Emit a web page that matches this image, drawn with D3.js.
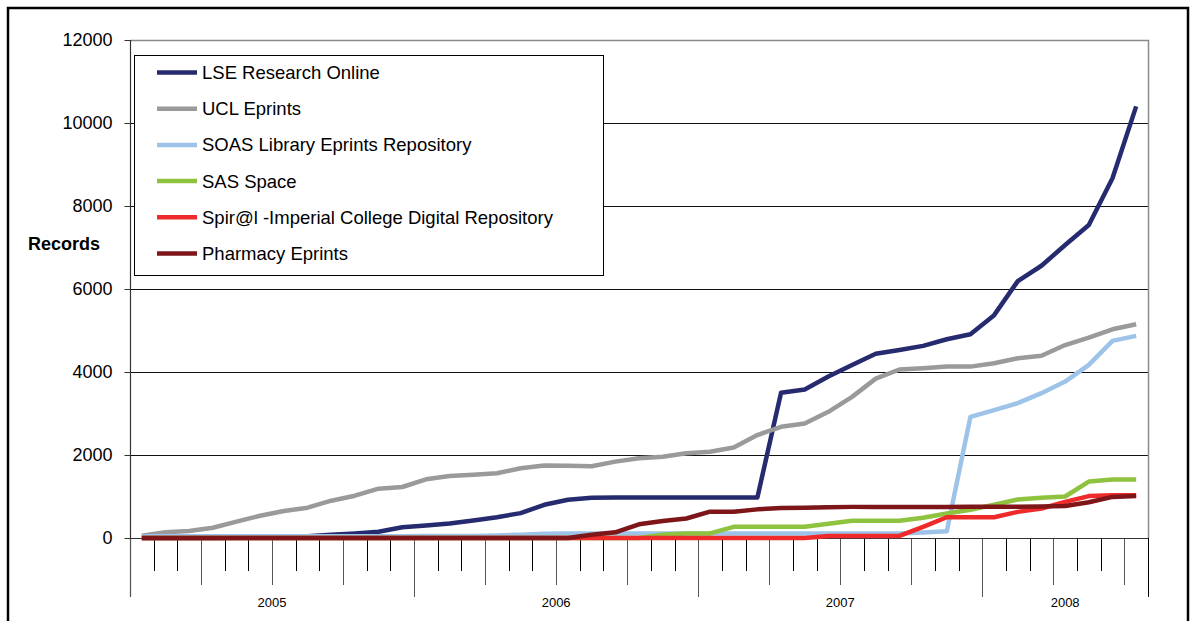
<!DOCTYPE html>
<html>
<head>
<meta charset="utf-8">
<script src="https://cdn.jsdelivr.net/npm/d3@7/dist/d3.min.js"></script>
<style>
	body { margin: 0; background: #fff; }
	svg { font-family: "Liberation Sans", Arial, sans-serif; }
</style>
</head>
<body>
<svg id="chart" width="1196" height="621"></svg>
<script>
// years on the outer axis level and how many months each one has
var years = ['2005', '2006', '2007', '2008'];
var monthsInYear = [12, 12, 12, 7];

// monthly record counts, Jan 2005 .. Jul 2008
var lse = [0, 0, 0, 0, 5, 10, 20, 40, 80, 110, 150, 260, 300, 350, 420, 500, 600, 800, 920, 970,
	975, 975, 975, 975, 975, 975, 975, 3500, 3580, 3890, 4170, 4440, 4530, 4630, 4790, 4910, 5370,
	6190, 6560, 7060, 7540, 8670, 10400];
var ucl = [55, 137, 169, 248, 393, 537, 651, 730, 899, 1019, 1188, 1229, 1414, 1494, 1525, 1559,
	1680, 1745, 1740, 1730, 1840, 1920, 1960, 2040, 2080, 2180, 2480, 2680, 2760, 3040, 3400, 3840,
	4060, 4090, 4130, 4130, 4210, 4330, 4390, 4650, 4830, 5030, 5150];
var soas = [40, 40, 40, 40, 40, 40, 40, 40, 40, 40, 40, 40, 50, 50, 50, 60, 80, 100, 110, 110,
	110, 110, 110, 110, 110, 110, 110, 110, 110, 110, 110, 110, 110, 130, 160, 2920, 3080, 3250,
	3490, 3770, 4170, 4750, 4870];
var sas = [0, 0, 0, 0, 0, 0, 0, 0, 0, 0, 0, 0, 0, 0, 0, 0, 0, 0, 0, 0, 0, 0, 80, 110, 110, 270,
	270, 270, 270, 345, 417, 417, 417, 490, 590, 680, 800, 930, 970, 1000, 1360, 1410, 1410];
var spiral = [0, 0, 0, 0, 0, 0, 0, 0, 0, 0, 0, 0, 0, 0, 0, 0, 0, 0, 0, 0, 0, 0, 0, 0, 0, 0, 0, 0,
	0, 50, 50, 50, 50, 270, 500, 500, 500, 630, 710, 870, 1010, 1030, 1030];
var pharmacy = [0, 0, 0, 0, 0, 0, 0, 0, 0, 0, 0, 0, 0, 0, 0, 0, 0, 0, 0, 80, 137, 330, 410, 470,
	634, 634, 690, 720, 730, 740, 750, 750, 750, 750, 750, 755, 755, 755, 760, 770, 860, 990, 1010];

var seriesNames = ['LSE Research Online', 'UCL Eprints', 'SOAS Library Eprints Repository',
	'SAS Space', 'Spir@l -Imperial College Digital Repository', 'Pharmacy Eprints'];
var seriesColors = ['#262a6f', '#9a9a9a', '#9dc3e8', '#8fc23e', '#ee2a2b', '#7e1518'];
var seriesValues = [lse, ucl, soas, sas, spiral, pharmacy];
var yTicks = [0, 2000, 4000, 6000, 8000, 10000, 12000];

// build month categories
var months = [];
years.forEach(function(y, yi) {
	for (var m = 0; m < monthsInYear[yi]; m++) months.push(y + '-' + (m + 1));
});

var svg = d3.select('#chart');
var plotLeft = 130, plotRight = 1148, plotTop = 40, plotZero = 538, axisBottom = 597;

var x = d3.scaleBand().domain(months).range([plotLeft, plotRight]).padding(0);
var y = d3.scaleLinear().domain([0, 12000]).range([plotZero, plotTop]);
var bw = x.bandwidth();

// half pixel so 1px rules land on whole pixels
function crisp(v) { return Math.round(v) + 0.5; }

// chart frame
svg.append('rect')
	.attr('x', 8).attr('y', 8).attr('width', 1180).attr('height', 640)
	.attr('fill', 'none').attr('stroke', '#000').attr('stroke-width', 2.5);

// gridlines
svg.append('g').selectAll('line')
	.data(yTicks.filter(function(t) { return t > 0 && t < 12000; }))
	.enter().append('line')
	.attr('x1', plotLeft).attr('x2', plotRight)
	.attr('y1', function(d) { return crisp(y(d)); }).attr('y2', function(d) { return crisp(y(d)); })
	.attr('stroke', '#111').attr('stroke-width', 1);

// plot area border (top, right)
svg.append('path')
	.attr('d', 'M' + plotLeft + ',' + crisp(y(12000)) + 'H' + crisp(plotRight) + 'V' + plotZero)
	.attr('fill', 'none').attr('stroke', '#8a8a8a').attr('stroke-width', 1.5);

// y axis
var yAxis = d3.axisLeft(y).tickValues(yTicks).tickSize(6).tickPadding(12)
	.tickFormat(d3.format('d'));
var gy = svg.append('g').attr('transform', 'translate(' + crisp(plotLeft) + ',0)').call(yAxis);
gy.select('.domain').remove();
gy.selectAll('.tick').attr('transform', function(d) { return 'translate(0,' + crisp(y(d)) + ')'; });
gy.selectAll('.tick line').attr('stroke', '#333');
gy.selectAll('.tick text').attr('font-size', '18px').attr('fill', '#000')
	.attr('font-family', '"Liberation Sans", Arial, sans-serif');

svg.append('line')
	.attr('x1', crisp(plotLeft)).attr('x2', crisp(plotLeft)).attr('y1', plotTop).attr('y2', axisBottom)
	.attr('stroke', '#333').attr('stroke-width', 1.2);

svg.append('text')
	.attr('x', 64).attr('y', 244).attr('dy', '0.35em')
	.attr('text-anchor', 'middle').attr('font-size', '18px').attr('font-weight', 'bold')
	.text('Records');

// x axis with month / quarter / year separators
var boundaries = d3.range(months.length + 1);
var yearStarts = [0];
monthsInYear.forEach(function(n, i) { yearStarts.push(yearStarts[i] + n); });

function bx(k) { return k < months.length ? x(months[k]) : plotRight; }

svg.append('g').selectAll('line')
	.data(boundaries)
	.enter().append('line')
	.attr('x1', function(k) { return crisp(bx(k)); })
	.attr('x2', function(k) { return crisp(bx(k)); })
	.attr('y1', plotZero)
	.attr('y2', function(k) {
		if (yearStarts.indexOf(k) >= 0) return axisBottom;
		if (k % 3 === 0) return 585;
		return 571;
	})
	.attr('stroke', function(k) { return (k % 3 === 0) ? '#555' : '#000'; })
	.attr('stroke-width', 1);

svg.append('line')
	.attr('x1', plotLeft).attr('x2', plotRight).attr('y1', crisp(plotZero)).attr('y2', crisp(plotZero))
	.attr('stroke', '#333').attr('stroke-width', 1.2);

svg.append('g').selectAll('text')
	.data(years)
	.enter().append('text')
	.attr('x', function(d, i) { return (bx(yearStarts[i]) + bx(yearStarts[i + 1])) / 2; })
	.attr('y', 602).attr('dy', '0.35em')
	.attr('text-anchor', 'middle').attr('font-size', '13px')
	.text(function(d) { return d; });

// series lines
var line = d3.line()
	.x(function(d, i) { return x(months[i]) + bw / 2; })
	.y(function(d) { return y(d); });

svg.append('g').selectAll('path')
	.data(seriesValues)
	.enter().append('path')
	.attr('d', line)
	.attr('fill', 'none')
	.attr('stroke', function(d, i) { return seriesColors[i]; })
	.attr('stroke-width', 4.5)
	.attr('stroke-linejoin', 'round');

// legend
var legend = svg.append('g');
legend.append('rect')
	.attr('x', 134.5).attr('y', 55.5).attr('width', 469).attr('height', 220)
	.attr('fill', '#fff').attr('stroke', '#000').attr('stroke-width', 1);

var rows = legend.selectAll('g.row')
	.data(seriesNames)
	.enter().append('g')
	.attr('class', 'row')
	.attr('transform', function(d, i) { return 'translate(0,' + (72.5 + i * 36.2) + ')'; });

rows.append('line')
	.attr('x1', 157).attr('x2', 197).attr('y1', 0).attr('y2', 0)
	.attr('stroke', function(d, i) { return seriesColors[i]; })
	.attr('stroke-width', 4.5);

rows.append('text')
	.attr('x', 202).attr('y', 0).attr('dy', '0.35em')
	.attr('font-size', '18.5px')
	.text(function(d) { return d; });
</script>
</body>
</html>
